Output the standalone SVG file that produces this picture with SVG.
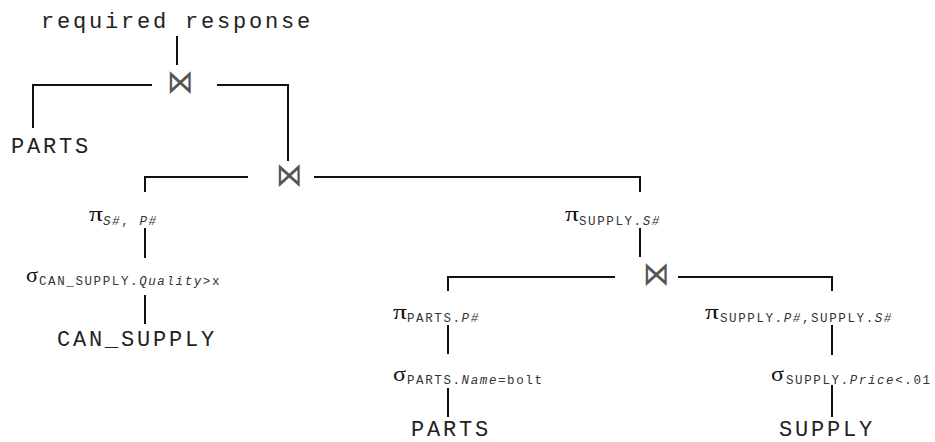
<svg xmlns="http://www.w3.org/2000/svg" width="935" height="442" viewBox="0 0 935 442">
<style>
.big{font-family:"Liberation Mono","Courier New",monospace;font-size:22px;letter-spacing:2.8px;fill:#222}
.op{font-family:"Liberation Serif","Times New Roman",serif;font-size:20px;fill:#111}
.sub{font-family:"Liberation Mono","Courier New",monospace;font-size:12.5px;letter-spacing:1.6px;fill:#333}
.it{font-style:italic}
.join{font-family:"DejaVu Sans",sans-serif;font-weight:200;font-size:26px;fill:#555}
.ln{stroke:#111;stroke-width:2;fill:none}
</style>
<rect width="935" height="442" fill="#fff"/>
<g id="connectors">
<path class="ln" d="M177,36 V65"/>
<path class="ln" d="M152,85 H33 V128"/>
<path class="ln" d="M217,85 H288 V161"/>
<path class="ln" d="M248,177 H145 V192"/>
<path class="ln" d="M314,177 H640 V192"/>
<path class="ln" d="M145,228 V258"/>
<path class="ln" d="M145,295 V324"/>
<path class="ln" d="M640,228 V257"/>
<path class="ln" d="M615,277 H448 V291"/>
<path class="ln" d="M678,277 H832 V291"/>
<path class="ln" d="M448,325 V354"/>
<path class="ln" d="M448,388 V417"/>
<path class="ln" d="M832,325 V355"/>
<path class="ln" d="M832,385 V417"/>
</g>
<g id="n-response"><text class="big" x="41" y="28">required response</text></g>
<g id="n-join1"><text class="join" transform="translate(180,84) scale(1,1.25)" x="0" y="7" text-anchor="middle">⋈</text></g>
<g id="n-parts1"><text class="big" x="11" y="153">PARTS</text></g>
<g id="n-join2"><text class="join" transform="translate(288.5,177.5) scale(1,1.25)" x="0" y="7" text-anchor="middle">⋈</text></g>
<g id="n-proj1"><text class="op" x="89" y="221" textLength="14" lengthAdjust="spacingAndGlyphs">π</text><text class="sub" x="103" y="225"><tspan class="it">S#</tspan>, <tspan class="it">P#</tspan></text></g>
<g id="n-sel1"><text class="op" x="26" y="282" textLength="12" lengthAdjust="spacingAndGlyphs">σ</text><text class="sub" x="39" y="285">CAN_SUPPLY.<tspan class="it">Quality</tspan>&gt;x</text></g>
<g id="n-cansupply"><text class="big" x="57" y="346">CAN_SUPPLY</text></g>
<g id="n-proj2"><text class="op" x="565" y="221" textLength="14" lengthAdjust="spacingAndGlyphs">π</text><text class="sub" x="579" y="225">SUPPLY.<tspan class="it">S#</tspan></text></g>
<g id="n-join3"><text class="join" transform="translate(655.5,276.5) scale(1,1.25)" x="0" y="7" text-anchor="middle">⋈</text></g>
<g id="n-proj3"><text class="op" x="393" y="319" textLength="14" lengthAdjust="spacingAndGlyphs">π</text><text class="sub" x="407" y="322">PARTS.<tspan class="it">P#</tspan></text></g>
<g id="n-sel2"><text class="op" x="393" y="381" textLength="13" lengthAdjust="spacingAndGlyphs">σ</text><text class="sub" x="407" y="384">PARTS.<tspan class="it">Name</tspan>=bolt</text></g>
<g id="n-parts2"><text class="big" x="411" y="436">PARTS</text></g>
<g id="n-proj4"><text class="op" x="705" y="319" textLength="14" lengthAdjust="spacingAndGlyphs">π</text><text class="sub" x="720" y="322">SUPPLY.<tspan class="it">P#</tspan>,SUPPLY.<tspan class="it">S#</tspan></text></g>
<g id="n-sel3"><text class="op" x="771" y="381" textLength="13" lengthAdjust="spacingAndGlyphs">σ</text><text class="sub" x="786" y="384">SUPPLY.<tspan class="it">Price</tspan>&lt;.01</text></g>
<g id="n-supply"><text class="big" x="779" y="436">SUPPLY</text></g>
</svg>
